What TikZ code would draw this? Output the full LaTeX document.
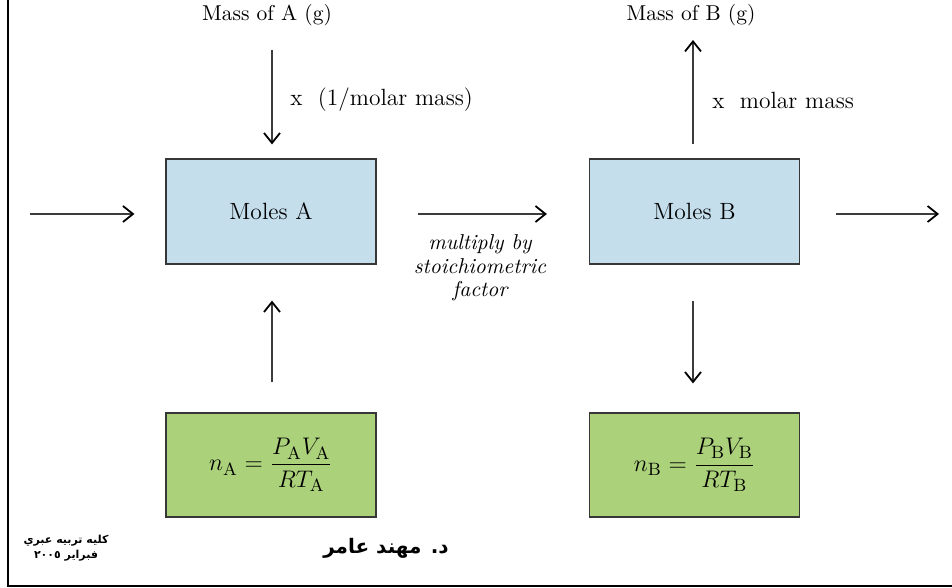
\documentclass[tikz,border=0pt]{standalone}
\usepackage{fontspec}
\usetikzlibrary{arrows.meta}
\newfontfamily\arabicfont[Script=Arabic]{DejaVu Sans}
\TeXXeTstate=1
\definecolor{boxblue}{RGB}{196,222,236}
\definecolor{boxgreen}{RGB}{171,209,122}
\definecolor{boxedge}{RGB}{55,55,55}
\definecolor{shaft}{RGB}{60,60,60}
\tikzset{
  molbox/.style={draw=boxedge, line width=0.6pt, fill=boxblue, minimum width=105pt, minimum height=52.5pt, inner sep=0pt, font=\fontsize{11.75}{14}\selectfont},
  gasbox/.style={draw=boxedge, line width=0.6pt, fill=boxgreen, minimum width=105pt, minimum height=52pt, inner sep=0pt, font=\fontsize{12.75}{15}\selectfont},
  lbl/.style={inner sep=0pt, font=\fontsize{11.75}{14}\selectfont},
  masslbl/.style={inner sep=0pt, font=\fontsize{10.75}{13}\selectfont},
  arr/.style={draw=shaft, line width=0.55pt, -{Straight Barb[length=5pt,width=8pt,line width=0.9pt,color=black]}},
}
\begin{document}
\begin{tikzpicture}[x=0.5pt,y=-0.5pt]
\useasboundingbox (0,0) rectangle (952,588);
% frame
\draw[line width=1.4pt] (8,0) -- (8,586) -- (952,586);
% boxes
\node[molbox] (boxA) at (271,211.5) {Moles A};
\node[molbox] (boxB) at (694.5,211.5) {Moles B};
\node[gasbox] (gasA) at (271,465) {$\displaystyle n_{\mathrm{A}} = \frac{P_{\mathrm{A}}V_{\mathrm{A}}}{RT_{\mathrm{A}}}$};
\node[gasbox] (gasB) at (694.5,465) {$\displaystyle n_{\mathrm{B}} = \frac{P_{\mathrm{B}}V_{\mathrm{B}}}{RT_{\mathrm{B}}}$};
% labels
\node[masslbl] (massA) at (267,15) {Mass of A (g)};
\node[masslbl] (massB) at (691,15) {Mass of B (g)};
\node[lbl, anchor=west] (convA) at (290,100) {x\ \ (1/molar mass)};
\node[lbl, anchor=west] (convB) at (712,100) {x\ \ molar mass};
\node[inner sep=0pt, align=center, font=\fontsize{10.75}{11.75}\selectfont\itshape] (stoich) at (480,268) {multiply by\\stoichiometric\\factor};
% free ends
\coordinate (topA) at (272,50);
\coordinate (topB) at (693,40);
\coordinate (inL) at (30,214);
\coordinate (outR) at (939,214);
% connectors
\draw[arr, shorten >=7pt] (topA) -- (topA |- boxA.north);
\draw[arr, shorten >=15.5pt] (inL) -- (inL -| boxA.west);
\draw[arr, shorten <=20.5pt, shorten >=21pt] ([yshift=-1.25pt]boxA.east) -- ([yshift=-1.25pt]boxB.west);
\draw[arr, shorten <=18pt] ([yshift=-1.25pt]boxB.east) -- (outR);
\draw[arr, shorten <=15pt, shorten >=18pt] (gasA.north -| topA) -- (boxA.south -| topA);
\draw[arr, shorten <=7pt] (topB |- boxB.north) -- (topB);
\draw[arr, shorten <=18pt, shorten >=14.5pt] (boxB.south -| topB) -- (gasB.north -| topB);
% footer
\node[inner sep=0pt, align=center, font=\arabicfont\bfseries\fontsize{5.5}{7.5}\selectfont] (college) at (66,548) {\beginR كليه تربيه عبري\endR\\\beginR فبراير ٢٠٠٥\endR};
\node[inner sep=0pt, font=\arabicfont\bfseries\fontsize{10}{12}\selectfont] (author) at (386,548) {\beginR د. مهند عامر\endR};
\end{tikzpicture}
\end{document}
